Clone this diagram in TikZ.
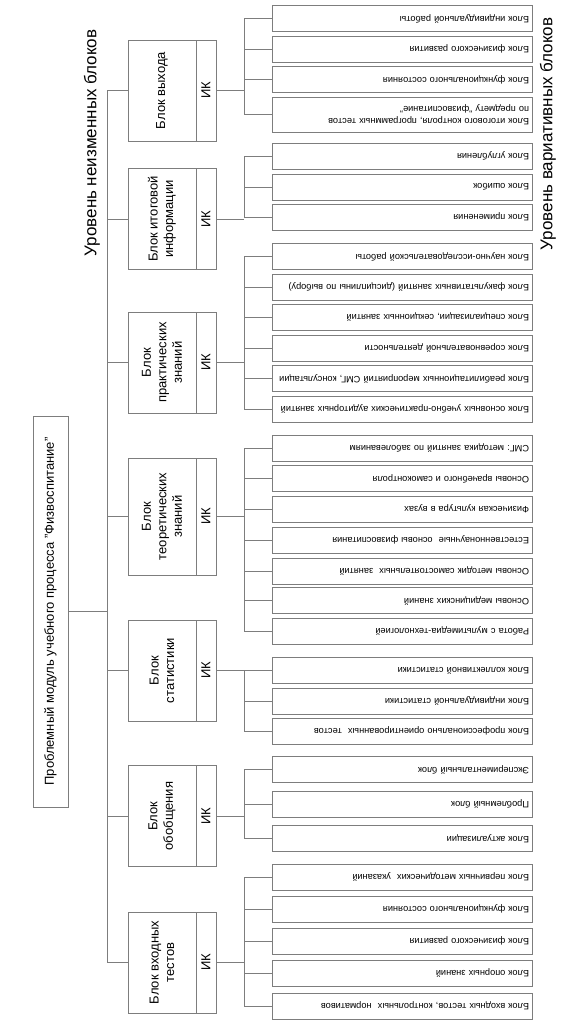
\documentclass[tikz,border=0pt]{standalone}
\usepackage{fontspec}
\setmainfont{Liberation Sans}
\definecolor{linegray}{RGB}{125,125,125}

\begin{document}
\begin{tikzpicture}[x=1pt,y=-1pt,
  ln/.style={draw=linegray,line width=0.8pt},
  blk/.style={ln,rotate=90,minimum width=101pt,minimum height=68pt,inner sep=2pt,align=center,font=\fontsize{13}{15.5}\selectfont},
  ik/.style={ln,rotate=90,minimum width=101pt,minimum height=20pt,inner sep=0pt,font=\fontsize{13}{15.5}\selectfont},
  sub/.style={ln,rotate=180,minimum height=26pt,text width=254pt,inner xsep=3pt,inner ysep=1pt,align=left,font=\fontsize{9.2}{11.5}\selectfont},
  lvl/.style={rotate=90,font=\fontsize{17}{20}\selectfont}]
\useasboundingbox (0,0) rectangle (560,1030);

\coordinate (bus) at (107,0);
\coordinate (sbus) at (244,0);

% top level
\node[ln,rotate=90,minimum width=391pt,minimum height=35pt,font=\fontsize{13}{15}\selectfont] (modul) at (50.5,611.5) {Проблемный модуль учебного процесса "Физвоспитание"};
\node[lvl] (lvlfix) at (92,143) {Уровень неизменных блоков};
\node[lvl] (lvlvar) at (548,134) {Уровень вариативных блоков};

% fixed blocks
\node[blk] (a) at (162,90.5) {Блок выхода};
\node[ik] (ika) at (206,90.5) {ИК};
\node[blk] (b) at (162,219) {Блок итоговой\\информации};
\node[ik] (ikb) at (206,219) {ИК};
\node[blk] (c) at (162,362.5) {Блок\\практических\\знаний};
\node[ik] (ikc) at (206,362.5) {ИК};
\node[blk,minimum width=117pt] (d) at (162,516.5) {Блок\\теоретических\\знаний};
\node[ik,minimum width=117pt] (ikd) at (206,516.5) {ИК};
\node[blk] (e) at (162,670.5) {Блок\\статистики};
\node[ik] (ike) at (206,670.5) {ИК};
\node[blk] (f) at (162,816) {Блок\\обобщения};
\node[ik] (ikf) at (206,816) {ИК};
\node[blk] (g) at (162,962.5) {Блок входных\\тестов};
\node[ik] (ikg) at (206,962.5) {ИК};

\draw[ln] (modul) -- (modul -| bus);
\draw[ln] (a -| bus) -- (g -| bus);
\draw[ln] (a) -- (a -| bus) (b) -- (b -| bus) (c) -- (c -| bus) (d) -- (d -| bus)
  (e) -- (e -| bus) (f) -- (f -| bus) (g) -- (g -| bus);

% variable blocks
\node[sub] (a1) at (402,18.5) {Блок индивидуальной работы};
\node[sub] (a2) at (402,49) {Блок физического развития};
\node[sub] (a3) at (402,79.5) {Блок функционального состояния};
\node[sub,minimum height=35pt] (a4) at (402,114.5) {Блок итогового контроля, программных тестов\\по предмету "физвоспитание"};

\node[sub] (b1) at (402,156) {Блок углубления};
\node[sub] (b2) at (402,187) {Блок ошибок};
\node[sub] (b3) at (402,217) {Блок применения};

\node[sub] (c1) at (402,256.5) {Блок научно-исследовательской работы};
\node[sub] (c2) at (402,287) {Блок факультативных занятий (дисциплины по выбору)};
\node[sub] (c3) at (402,317) {Блок специализации, секционных занятий};
\node[sub] (c4) at (402,348) {Блок соревновательной деятельности};
\node[sub] (c5) at (402,378.5) {Блок реабилитационных мероприятий СМГ, консультации};
\node[sub] (c6) at (402,409) {Блок основных учебно-практических аудиторных занятий};

\node[sub] (d1) at (402,448) {СМГ: методика занятий по заболеваниям};
\node[sub] (d2) at (402,478.5) {Основы врачебного и самоконтроля};
\node[sub] (d3) at (402,509) {Физическая культура в вузах};
\node[sub] (d4) at (402,540) {Естественнонаучные\ \ основы физвоспитания};
\node[sub] (d5) at (402,571) {Основы методик самостоятельных\ \ занятий};
\node[sub] (d6) at (402,600.5) {Основы медицинских знаний};
\node[sub] (d7) at (402,631) {Работа с мультимедиа-технологией};

\node[sub] (e1) at (402,670.5) {Блок коллективной статистики};
\node[sub] (e2) at (402,701) {Блок индивидуальной статистики};
\node[sub] (e3) at (402,731) {Блок профессионально ориентированных\ \ тестов};

\node[sub] (f1) at (402,769.5) {Экспериментальный блок};
\node[sub] (f2) at (402,804) {Проблемный блок};
\node[sub] (f3) at (402,838.5) {Блок актуализации};

\node[sub] (g1) at (402,877) {Блок первичных методических\ \ указаний};
\node[sub] (g2) at (402,909) {Блок функционального состояния};
\node[sub] (g3) at (402,941) {Блок физического развития};
\node[sub] (g4) at (402,973) {Блок опорных знаний};
\node[sub] (g5) at (402,1006) {Блок входных тестов, контрольных\ \ нормативов};

% IK to the sub-buses
\draw[ln] (ika) -- (ika -| sbus) (ikb) -- (ikb -| sbus) (ikc) -- (ikc -| sbus) (ikd) -- (ikd -| sbus)
  (ike) -- (ike -| sbus) (ikf) -- (ikf -| sbus) (ikg) -- (ikg -| sbus);

\draw[ln] (a1 -| sbus) -- (a4 -| sbus);
\draw[ln] (a1) -- (a1 -| sbus) (a2) -- (a2 -| sbus) (a3) -- (a3 -| sbus) (a4) -- (a4 -| sbus);

\draw[ln] (b1 -| sbus) -- (b3 -| sbus);
\draw[ln] (b1) -- (b1 -| sbus) (b2) -- (b2 -| sbus) (b3) -- (b3 -| sbus);

\draw[ln] (c1 -| sbus) -- (c6 -| sbus);
\draw[ln] (c1) -- (c1 -| sbus) (c2) -- (c2 -| sbus) (c3) -- (c3 -| sbus) (c4) -- (c4 -| sbus)
  (c5) -- (c5 -| sbus) (c6) -- (c6 -| sbus);

\draw[ln] (d1 -| sbus) -- (d7 -| sbus);
\draw[ln] (d1) -- (d1 -| sbus) (d2) -- (d2 -| sbus) (d3) -- (d3 -| sbus) (d4) -- (d4 -| sbus)
  (d5) -- (d5 -| sbus) (d6) -- (d6 -| sbus) (d7) -- (d7 -| sbus);

\draw[ln] (e1 -| sbus) -- (e3 -| sbus);
\draw[ln] (e1) -- (e1 -| sbus) (e2) -- (e2 -| sbus) (e3) -- (e3 -| sbus);

\draw[ln] (f1 -| sbus) -- (f3 -| sbus);
\draw[ln] (f1) -- (f1 -| sbus) (f2) -- (f2 -| sbus) (f3) -- (f3 -| sbus);

\draw[ln] (g1 -| sbus) -- (g5 -| sbus);
\draw[ln] (g1) -- (g1 -| sbus) (g2) -- (g2 -| sbus) (g3) -- (g3 -| sbus) (g4) -- (g4 -| sbus)
  (g5) -- (g5 -| sbus);

\end{tikzpicture}
\end{document}
